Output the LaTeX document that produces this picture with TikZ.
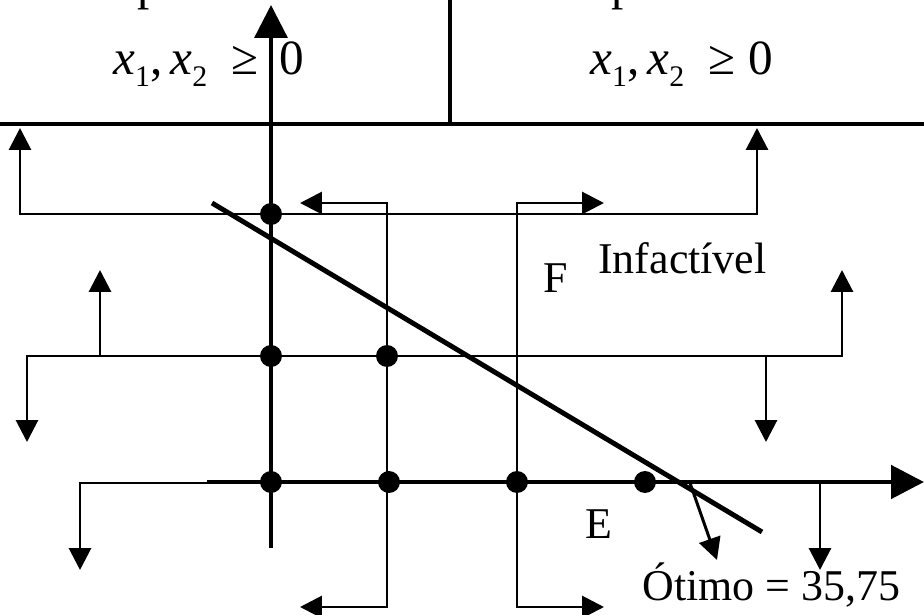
\documentclass[tikz,border=0pt]{standalone}
\usepackage{fontspec}
\setmainfont{Liberation Serif}
\usetikzlibrary{arrows.meta}
\tikzset{
  cuttip/.tip={Triangle[length=4.4mm,width=4.4mm]},
  axistip/.tip={Triangle[length=6.6mm,width=6.6mm]},
  cutline/.style={line width=1.7pt, cuttip-cuttip},
  branch/.style={line width=1.7pt, -cuttip},
  axisline/.style={line width=1.9pt, -axistip},
  frameline/.style={line width=2pt},
  vertex/.style={circle, fill=black, inner sep=0pt, minimum size=4.4mm}
}
\newcommand{\xsub}[1]{\textit{x}\raisebox{-0.24em}{\fontsize{17}{17}\selectfont #1}}

\begin{document}
\begin{tikzpicture}[x=0.02cm, y=-0.02cm,
  lbl/.style={font=\fontsize{25}{30}\selectfont, inner sep=0pt, anchor=base west},
  toplbl/.style={font=\fontsize{28}{32}\selectfont, inner sep=0pt, anchor=base west}
]
\useasboundingbox (0,0) rectangle (924,615);

% quadro das restricoes
\coordinate (hl) at (0,124);
\coordinate (hr) at (924,124);
\coordinate (div) at (450,0);
\draw[frameline] (hl) -- (hr);
\draw[frameline] (div) -- (div |- hl);
\begin{scope}
  \clip (0,0) rectangle (924,11);
  \node[toplbl] (cutp1) at (137,0) {p};
  \node[toplbl] (cutp2) at (611,0) {p};
\end{scope}
\node[toplbl] (nnegl) at (113,75) {\xsub{1},\,\xsub{2}\ \ ≥\ \,0};
\node[toplbl] (nnegr) at (590,75) {\xsub{1},\,\xsub{2}\ \ ≥\ 0};

% eixos
\coordinate (o) at (271,482);
\coordinate (ybot) at (271,548);
\coordinate (ytop) at (271,5);
\coordinate (xleft) at (207,482);
\coordinate (xright) at (924,482);

% ramos
\draw[cutline] (20,128) -- (20,214) -- (757,214) -- (757,128);
\draw[cutline] (300,203) -- (387,203) -- (387,607) -- (300,607);
\draw[cutline] (604,203) -- (517,203) -- (517,607) -- (604,607);
\draw[cutline] (27,442) -- (27,356) -- (842,356) -- (842,270);
\draw[branch] (100,356) -- (100,270);
\draw[branch] (766,356) -- (766,442);
\draw[cutline] (80,570) -- (80,483) -- (820,483) -- (820,570);

\draw[axisline] (ybot) -- (ytop);
\draw[axisline, line width=2.8pt] (xleft) -- (xright);

% funcao objetivo
\coordinate (fa) at (212,203);
\coordinate (fb) at (762,532);
\draw[line width=2.8pt] (fa) -- (fb);
\coordinate (opt) at (690,483);
\coordinate (grad) at (717,560);
\draw[branch] (opt) -- (grad);

% pontos
\node[vertex] (p1) at (271,214) {};
\node[vertex] (p2) at (271,356) {};
\node[vertex] (p3) at (387,356) {};
\node[vertex] (p4) at (271,482) {};
\node[vertex] (p5) at (389,482) {};
\node[vertex] (p6) at (517,482) {};
\node[vertex] (p7) at (645,482) {};

\node[lbl] (F) at (543,293) {F};
\node[lbl] (infact) at (598,274) {Infactível};
\node[lbl] (E) at (585,538) {E};
\node[lbl] (otimo) at (642,600) {Ótimo = 35,75};
\end{tikzpicture}
\end{document}
